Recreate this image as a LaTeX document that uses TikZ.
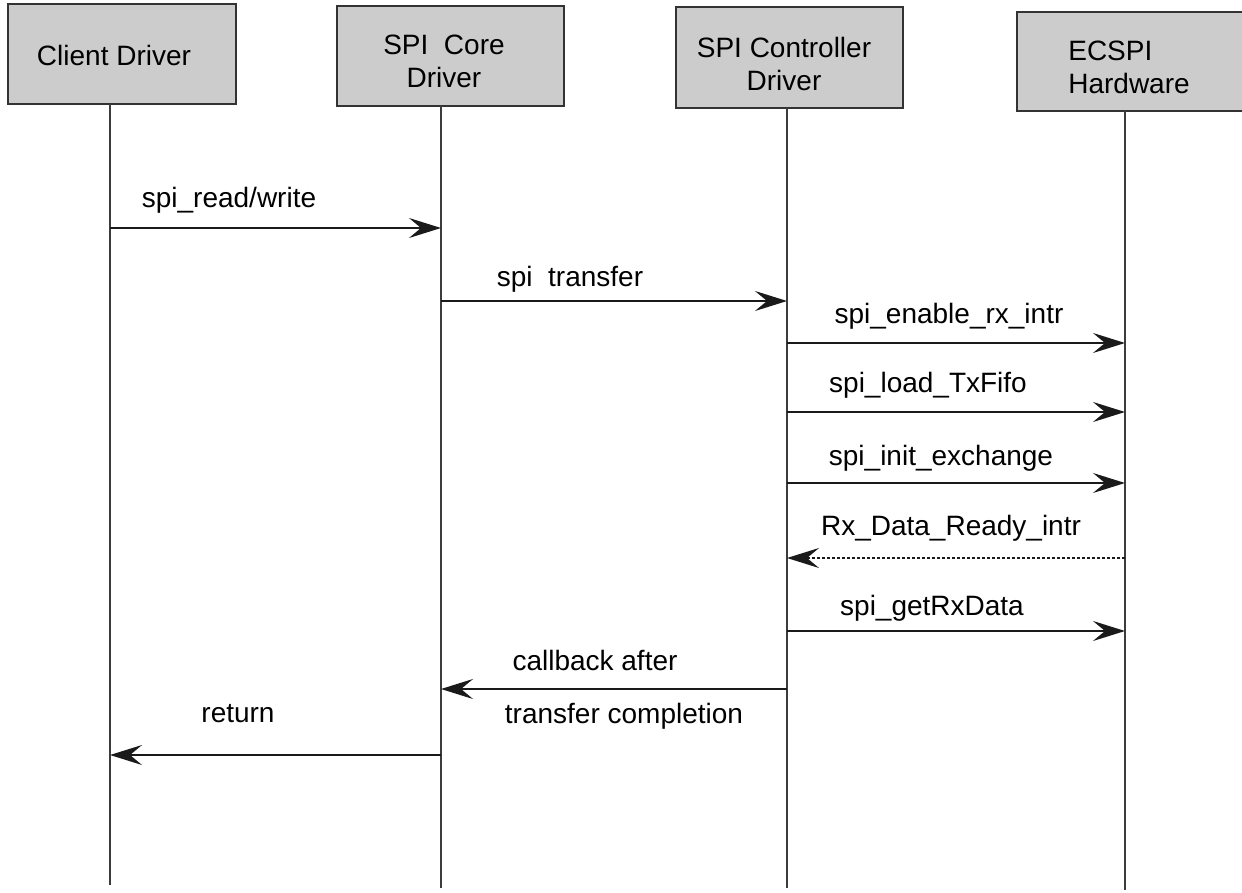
\documentclass[tikz,border=0pt]{standalone}
\usepackage{fontspec}
\setmainfont{Liberation Sans}
\usetikzlibrary{arrows.meta}
\definecolor{boxfill}{HTML}{CCCCCC}
\definecolor{edgecol}{HTML}{333333}
\definecolor{linecol}{HTML}{1A1A1A}
\begin{document}
\begin{tikzpicture}[x=0.5pt,y=-0.5pt,
  actor/.style={draw=edgecol, line width=1pt, fill=boxfill, inner sep=0pt},
  title/.style={inner sep=0pt, align=center, font=\fontsize{14pt}{16.5pt}\selectfont},
  lifeline/.style={draw=linecol!85!white, line width=0.9pt},
  msg/.style={draw=linecol, line width=1.1pt, -{Stealth[length=16pt,width=10pt,inset=6pt]}},
  reply/.style={msg, dash pattern=on 1.5pt off 1pt},
  lbl/.style={inner sep=0pt, font=\fontsize{14pt}{16.5pt}\selectfont}]
\clip (0,0) rectangle (1242,893);
\fill[white] (0,0) rectangle (1242,893);

% actor boxes
\node[actor, minimum width=114pt, minimum height=50pt] (client) at (122,54) {};
\node[actor, minimum width=113.5pt, minimum height=50pt] (core) at (450.5,56) {};
\node[actor, minimum width=113.5pt, minimum height=50.5pt] (ctrl) at (789.5,57.5) {};
\node[actor, minimum width=120pt, minimum height=49.5pt] (hw) at (1137,61.5) {};

\node[title] (clientt) at (114,55) {Client Driver};
\node[title] (coret) at (444,61.5) {SPI\ \ Core\\Driver};
\node[title] (ctrlt) at (784,63.5) {SPI Controller\\Driver};
\node[title, align=left] (hwt) at (1129,67.5) {ECSPI\\Hardware};

% lifelines
\coordinate (l1t) at (110,104); \coordinate (l1b) at (110,885);
\coordinate (l2t) at (441,106); \coordinate (l2b) at (441,888);
\coordinate (l3t) at (787,108); \coordinate (l3b) at (787,888);
\coordinate (l4t) at (1125,111); \coordinate (l4b) at (1125,890);
\draw[lifeline] (l1t) -- (l1b);
\draw[lifeline] (l2t) -- (l2b);
\draw[lifeline] (l3t) -- (l3b);
\draw[lifeline] (l4t) -- (l4b);

% messages
\coordinate (m1a) at (110,228); \coordinate (m1b) at (441,228);
\coordinate (m2a) at (441,301); \coordinate (m2b) at (787,301);
\coordinate (m3a) at (787,343); \coordinate (m3b) at (1125,343);
\coordinate (m4a) at (787,412); \coordinate (m4b) at (1125,412);
\coordinate (m5a) at (787,483); \coordinate (m5b) at (1125,483);
\coordinate (m6a) at (1125,558); \coordinate (m6b) at (787,558);
\coordinate (m7a) at (787,631); \coordinate (m7b) at (1125,631);
\coordinate (m8a) at (787,689); \coordinate (m8b) at (441,689);
\coordinate (m9a) at (441,755); \coordinate (m9b) at (110,755);

\draw[msg] (m1a) -- (m1b);
\draw[msg] (m2a) -- (m2b);
\draw[msg] (m3a) -- (m3b);
\draw[msg] (m4a) -- (m4b);
\draw[msg] (m5a) -- (m5b);
\draw[reply] (m6a) -- (m6b);
\draw[msg] (m7a) -- (m7b);
\draw[msg] (m8a) -- (m8b);
\draw[msg] (m9a) -- (m9b);

% labels
\node[lbl] (t1) at (229,200) {spi\_read/write};
\node[lbl] (t2) at (570,279) {spi\ \ transfer};
\node[lbl] (t3) at (949,316) {spi\_enable\_rx\_intr};
\node[lbl] (t4) at (928,385) {spi\_load\_TxFifo};
\node[lbl] (t5) at (941,458) {spi\_init\_exchange};
\node[lbl] (t6) at (951,528) {Rx\_Data\_Ready\_intr};
\node[lbl] (t7) at (932,608) {spi\_getRxData};
\node[lbl] (t8) at (595,660) {callback after};
\node[lbl] (t9) at (624,716) {transfer completion};
\node[lbl] (t10) at (238,714) {return};
\end{tikzpicture}
\end{document}
